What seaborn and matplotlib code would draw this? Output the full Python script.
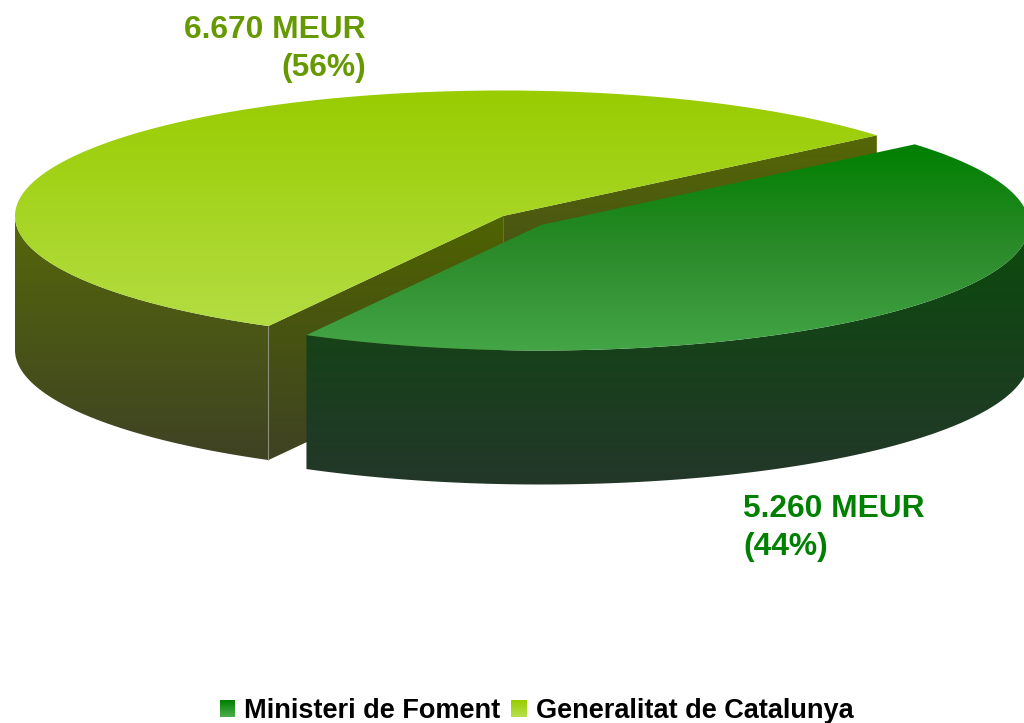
import numpy as np
import matplotlib
matplotlib.use("Agg")
import matplotlib.pyplot as plt
import seaborn as sns
from matplotlib.patches import Polygon, Rectangle, Patch
from matplotlib.legend_handler import HandlerBase

categories = ["Ministeri de Foment", "Generalitat de Catalunya"]
values_meur = [5260, 6670]
value_labels = ["5.260 MEUR\n(44%)", "6.670 MEUR\n(56%)"]

sns.set_theme(style="white", rc={"font.family": ["Liberation Sans", "DejaVu Sans"]})

W, H = 1024, 723
fig = plt.figure(figsize=(W / 100, H / 100), dpi=100, facecolor="white")
ax = fig.add_axes([0, 0, 1, 1])

# pie geometry
START = 40.0
RX, RY, DEPTH = 488.0, 125.5, 134.0
CENTER_LIGHT = (503.0, 216.0)
CENTER_DARK = (541.0, 225.0)

sweep = np.array(values_meur, dtype=float) / np.sum(values_meur) * 360.0
a_light = (START, START + sweep[1])
a_dark = (START + sweep[1], START + 360.0)


def arc(c, t0, t1, dy=0.0, n=240):
    t = np.radians(np.linspace(t0, t1, n))
    return np.column_stack([c[0] + RX * np.cos(t), c[1] - RY * np.sin(t) + dy])


def gradient_poly(pts, stops, y0, y1):
    cmap = sns.blend_palette(stops, as_cmap=True)
    grad = np.linspace(0, 1, 256).reshape(-1, 1)
    xmin, xmax = pts[:, 0].min(), pts[:, 0].max()
    im = ax.imshow(grad, cmap=cmap, vmin=0, vmax=1, aspect="auto",
                   extent=(xmin, xmax, y1, y0), interpolation="bilinear")
    im.set_clip_path(Polygon(pts, closed=True, transform=ax.transData))
    return im


def wall(c, t0, t1):
    top = arc(c, t0, t1)
    return np.vstack([top, arc(c, t1, t0, dy=DEPTH)])


def flat_wall(c, t):
    edge = arc(c, t, t, n=1)[0]
    return np.array([c, edge, edge + [0, DEPTH], np.array(c) + [0, DEPTH]])


OLIVE = ["#566a08", "#3f4224"]
LIGHT_TOP = ["#99cc00", "#b5de47"]
DARK_TOP = ["#008000", "#2b8a2a", "#44a647"]
# light slice: outer wall, cut faces, top
gradient_poly(wall(CENTER_LIGHT, 180, a_light[1]), OLIVE, 200, 462)
gradient_poly(flat_wall(CENTER_LIGHT, a_light[0]), ["#556804", "#3f4224"], 130, 360)
gradient_poly(flat_wall(CENTER_LIGHT, a_light[1]), ["#4f6300", "#3f4224"], 216, 462)
top_light = np.vstack([[CENTER_LIGHT], arc(CENTER_LIGHT, *a_light)])
gradient_poly(top_light, LIGHT_TOP, 88, 342)

edge = arc(CENTER_LIGHT, a_light[1], a_light[1], n=1)[0]
ax.vlines(edge[0], edge[1], edge[1] + DEPTH, color="#8d8f78", lw=0.8, zorder=3)
ax.vlines(CENTER_LIGHT[0], CENTER_LIGHT[1], CENTER_LIGHT[1] + 26, color="#6c7a2a", lw=0.6, zorder=3)

# dark slice: outer wall, top
im = gradient_poly(wall(CENTER_DARK, a_dark[0], 360), ["#0b4a0c", "#24372a"], 225, 487)
im.set_zorder(4)
top_dark = np.vstack([[CENTER_DARK], arc(CENTER_DARK, *a_dark)])
im = gradient_poly(top_dark, DARK_TOP, 144, 353)
im.set_zorder(5)

# value labels
label_style = dict(fontsize=22.9, fontweight="bold", va="baseline", zorder=6)
for line, y in zip(value_labels[1].split("\n"), (38, 76)):
    ax.text(366, y, line, color="#669900", ha="right", **label_style)
for line, y in zip(value_labels[0].split("\n"), (517, 555)):
    ax.text(743, y, line, color="#008000", ha="left", **label_style)


class GradientKey(HandlerBase):
    def create_artists(self, legend, handle, xd, yd, w, h, fontsize, trans):
        top, bottom = handle.get_gid().split(",")
        cols = sns.blend_palette([top, bottom], 16)
        arts = []
        for i, col in enumerate(cols):
            arts.append(Rectangle((-xd, -yd + h * (1 - (i + 1) / 16)), w, h / 16 + 0.2,
                                  facecolor=col, edgecolor="none", transform=trans))
        return arts


key_colors = [("#008000", "#46aa48"), ("#99cc00", "#b5de47")]
handles = []
for name, (a, b) in zip(categories, key_colors):
    p = Patch(label=name)
    p.set_gid(f"{a},{b}")
    handles.append(p)

leg = ax.legend(handles=handles, loc="center", bbox_to_anchor=(536.5, 711),
                bbox_transform=ax.transData, ncols=2, frameon=False,
                handler_map={Patch: GradientKey()},
                prop={"family": "Liberation Sans", "weight": "bold", "size": 19.5},
                handlelength=0.58, handleheight=0.56, handletextpad=0.32, columnspacing=0.4,
                borderpad=0, borderaxespad=0)
leg.set_zorder(7)
for t in leg.get_texts():
    t.set_color("black")

ax.set_xlim(0, W)
ax.set_ylim(H, 0)
ax.axis("off")
fig.savefig("out.png", dpi=100, facecolor="white")
